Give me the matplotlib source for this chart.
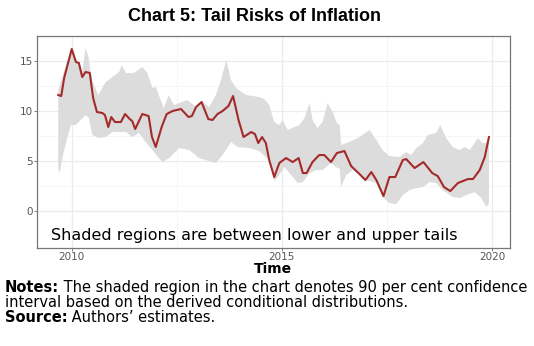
import numpy as np
import matplotlib
matplotlib.use("Agg")
import matplotlib.pyplot as plt

plt.rcParams['font.family'] = ['DejaVu Sans']

# median inflation path (decimal year, per cent)
line_t = [2009.68, 2009.75, 2009.82, 2010.00, 2010.10, 2010.17, 2010.25, 2010.33, 2010.43, 2010.51,
          2010.60, 2010.73, 2010.79, 2010.87, 2010.94, 2011.03, 2011.17, 2011.27, 2011.38, 2011.44,
          2011.51, 2011.68, 2011.83, 2011.91, 2012.00, 2012.14, 2012.26, 2012.40, 2012.60, 2012.78,
          2012.86, 2012.96, 2013.09, 2013.25, 2013.35, 2013.47, 2013.59, 2013.73, 2013.84, 2013.97,
          2014.09, 2014.27, 2014.36, 2014.44, 2014.53, 2014.62, 2014.70, 2014.82, 2014.94, 2015.10,
          2015.26, 2015.40, 2015.50, 2015.59, 2015.73, 2015.89, 2016.01, 2016.17, 2016.31, 2016.49,
          2016.65, 2016.85, 2016.99, 2017.13, 2017.25, 2017.42, 2017.56, 2017.70, 2017.88, 2017.96,
          2018.16, 2018.37, 2018.58, 2018.71, 2018.86, 2019.01, 2019.19, 2019.43, 2019.55, 2019.71,
          2019.83, 2019.93]
line_v = [11.6, 11.5, 13.3, 16.2, 14.9, 14.8, 13.4, 13.9, 13.8, 11.3,
          9.9, 9.8, 9.6, 8.4, 9.4, 8.9, 8.9, 9.7, 9.2, 9.0,
          8.2, 9.7, 9.5, 7.4, 6.4, 8.4, 9.7, 10.0, 10.2, 9.4,
          9.5, 10.4, 10.9, 9.2, 9.1, 9.7, 10.0, 10.5, 11.5, 9.1,
          7.4, 7.9, 7.7, 6.8, 7.4, 6.8, 5.1, 3.4, 4.8, 5.3,
          4.9, 5.3, 3.8, 3.8, 4.9, 5.6, 5.6, 4.9, 5.8, 6.0,
          4.5, 3.7, 3.1, 3.9, 3.1, 1.5, 3.4, 3.4, 5.1, 5.2,
          4.3, 4.9, 3.8, 3.5, 2.4, 2.0, 2.8, 3.2, 3.2, 4.1,
          5.4, 7.4]

# upper tail
upper_t = [2009.68, 2009.82, 2010.00, 2010.10, 2010.17, 2010.25, 2010.33, 2010.40, 2010.48, 2010.63,
           2010.81, 2010.97, 2011.13, 2011.19, 2011.29, 2011.48, 2011.68, 2011.80, 2011.92, 2012.00,
           2012.08, 2012.19, 2012.31, 2012.43, 2012.75, 2012.96, 2013.11, 2013.27, 2013.43, 2013.55,
           2013.68, 2013.79, 2013.91, 2014.15, 2014.46, 2014.58, 2014.70, 2014.82, 2014.94, 2015.02,
           2015.14, 2015.30, 2015.42, 2015.54, 2015.66, 2015.73, 2015.85, 2015.97, 2016.09, 2016.21,
           2016.31, 2016.38, 2016.41, 2016.61, 2016.85, 2017.09, 2017.25, 2017.40, 2017.56, 2017.80,
           2017.96, 2018.08, 2018.20, 2018.36, 2018.47, 2018.67, 2018.77, 2018.91, 2019.07, 2019.23,
           2019.35, 2019.47, 2019.67, 2019.77, 2019.87, 2019.93]
upper_v = [12.1, 14.0, 16.3, 15.0, 14.5, 13.9, 16.3, 15.4, 13.1, 11.6,
           12.9, 13.4, 13.9, 14.6, 13.8, 13.8, 14.4, 13.8, 12.3, 12.4,
           11.5, 10.3, 11.6, 10.6, 11.1, 10.4, 10.9, 10.4, 11.6, 13.1,
           15.1, 13.1, 12.3, 11.6, 11.4, 11.2, 10.6, 8.9, 8.6, 9.1,
           8.1, 8.4, 8.6, 9.3, 10.8, 9.1, 8.3, 8.9, 10.8, 9.9,
           8.8, 8.6, 6.6, 6.9, 7.4, 8.1, 7.1, 6.1, 5.5, 5.4,
           5.9, 5.6, 6.3, 6.8, 7.6, 7.8, 8.6, 7.3, 6.4, 6.1,
           6.4, 6.1, 7.3, 6.8, 6.8, 7.3]

# lower tail
lower_t = [2009.68, 2009.72, 2009.78, 2009.90, 2009.98, 2010.10, 2010.21, 2010.33, 2010.41, 2010.49,
           2010.65, 2010.81, 2010.97, 2011.13, 2011.29, 2011.44, 2011.60, 2011.76, 2011.92, 2012.03,
           2012.16, 2012.32, 2012.56, 2012.80, 2013.03, 2013.19, 2013.43, 2013.59, 2013.79, 2013.95,
           2014.23, 2014.46, 2014.70, 2014.82, 2014.94, 2015.06, 2015.18, 2015.38, 2015.50, 2015.66,
           2015.82, 2015.97, 2016.17, 2016.29, 2016.38, 2016.41, 2016.53, 2016.69, 2017.01, 2017.25,
           2017.40, 2017.56, 2017.72, 2017.88, 2018.04, 2018.20, 2018.36, 2018.52, 2018.67, 2018.83,
           2019.07, 2019.23, 2019.39, 2019.59, 2019.75, 2019.87, 2019.93]
lower_v = [4.1, 3.9, 5.4, 7.4, 8.6, 8.6, 9.1, 9.6, 9.3, 7.6,
           7.3, 7.4, 7.9, 7.9, 7.9, 7.4, 7.8, 6.9, 6.1, 5.5,
           4.9, 5.3, 6.3, 6.1, 5.3, 5.1, 4.8, 5.6, 6.9, 6.4,
           6.3, 6.0, 5.1, 3.0, 3.6, 4.4, 3.8, 2.8, 2.9, 3.8,
           4.1, 4.1, 4.8, 4.4, 4.2, 2.4, 3.6, 4.1, 3.1, 2.8,
           1.4, 0.8, 0.7, 1.6, 2.1, 2.3, 2.4, 2.9, 2.8, 2.1,
           1.4, 1.3, 1.6, 1.9, 1.3, 0.4, 0.8]

fig = plt.figure(figsize=(5.34, 3.46), dpi=100)
ax = fig.add_axes([0.069, 0.283, 0.886, 0.613])

# shaded band between tails
band_x = np.concatenate([upper_t, lower_t[::-1]])
band_y = np.concatenate([upper_v, lower_v[::-1]])
ax.fill(band_x, band_y, color='#dcdcdc', lw=0, zorder=2)
ax.plot(line_t, line_v, color='#a52a2a', lw=1.5, zorder=3)

ax.set_xlim(2009.17, 2020.43)
ax.set_ylim(-3.7, 17.5)
ax.set_xticks([2010, 2015, 2020])
ax.set_yticks([0, 5, 10, 15])
ax.set_xticks([2012.5, 2017.5], minor=True)
ax.set_yticks([2.5, 7.5, 12.5], minor=True)
ax.grid(True, which='major', color='#ebebeb', lw=0.9, zorder=0)
ax.grid(True, which='minor', color='#f4f4f4', lw=0.6, zorder=0)
ax.set_axisbelow(True)
ax.tick_params(which='major', length=2.5, width=0.6, color='#666666',
               labelsize=7.5, labelcolor='#555555', pad=0.5)
ax.tick_params(which='minor', length=0)
for s in ax.spines.values():
    s.set_color('#777777')
    s.set_linewidth(0.9)

ax.text(2009.5, -2.93, 'Shaded regions are between lower and upper tails',
        fontsize=11.5, ha='left', va='baseline', color='black', zorder=4)
ax.set_xlabel('Time', fontsize=10, fontweight='bold', labelpad=-0.5)

fig.text(0.476, 0.940, 'Chart 5: Tail Risks of Inflation', fontsize=13,
         fontweight='bold', ha='center', va='baseline', family='Liberation Sans')

n1 = fig.text(0.009, 0.156, 'Notes:', fontsize=10.5, fontweight='bold', va='baseline')
ax.annotate(' The shaded region in the chart denotes 90 per cent confidence',
            xy=(1, 0), xycoords=n1, va='bottom', fontsize=10.5, annotation_clip=False)
fig.text(0.009, 0.113, 'interval based on the derived conditional distributions.',
         fontsize=10.5, va='baseline')
s1 = fig.text(0.009, 0.069, 'Source:', fontsize=10.5, fontweight='bold', va='baseline')
ax.annotate(' Authors\u2019 estimates.', xy=(1, 0), xycoords=s1, va='bottom',
            fontsize=10.5, annotation_clip=False)

fig.savefig('out.png', dpi=100)
